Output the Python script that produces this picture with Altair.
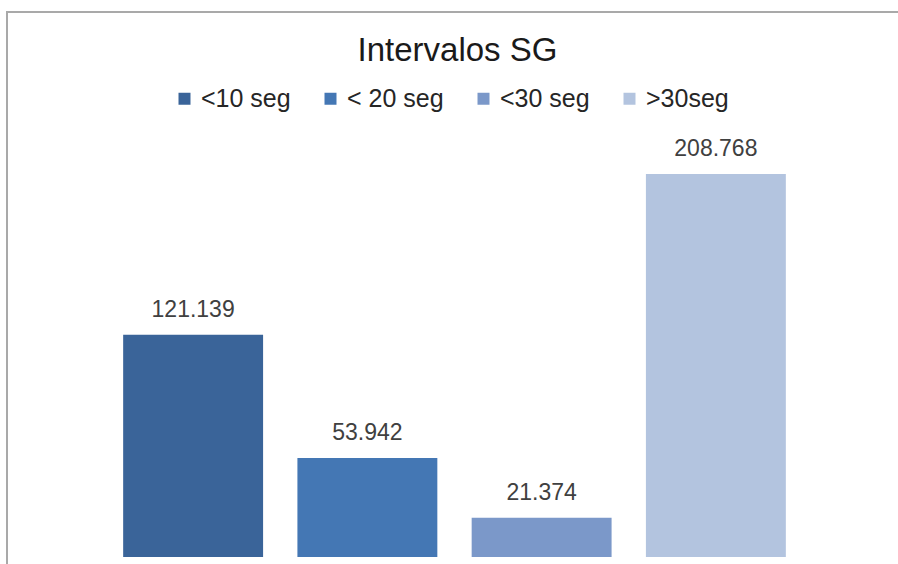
import altair as alt
import pandas as pd

# Intervalos SG: counts per time interval
categories = ["<10 seg", "< 20 seg", "<30 seg", ">30seg"]
values = [121139, 53942, 21374, 208768]
colors = ["#3a6499", "#4477b4", "#7b98c9", "#b3c4df"]

df = pd.DataFrame({"intervalo": categories, "total": values})
# Spanish-style thousands separator for the data labels
df["etiqueta"] = [f"{v:,}".replace(",", ".") for v in values]

x = alt.X(
    "intervalo:N",
    sort=categories,
    axis=None,
    scale=alt.Scale(paddingInner=0.197, paddingOuter=0.0985),
)
y = alt.Y("total:Q", axis=None, scale=alt.Scale(domain=[0, 218000], nice=False))

bars = alt.Chart(df).mark_bar().encode(
    x=x,
    y=y,
    color=alt.Color(
        "intervalo:N",
        sort=categories,
        scale=alt.Scale(domain=categories, range=colors),
        legend=alt.Legend(
            title=None,
            orient="none",
            legendX=66,
            legendY=-71,
            direction="horizontal",
            symbolType="square",
            symbolSize=144,
            symbolStrokeWidth=0,
            labelFont="Liberation Sans",
            labelFontSize=25,
            labelColor="#262626",
            labelOffset=4,
            columnPadding=27,
            padding=0,
        ),
    ),
)

labels = alt.Chart(df).mark_text(
    font="Liberation Sans",
    fontSize=23,
    color="#404040",
    baseline="alphabetic",
    dy=-18,
).encode(x=x, y=y, text="etiqueta:N")

# Outer chart frame (top and left edges)
frame_top = alt.Chart(alt.Data(values=[{}])).mark_rule(
    color="#a9a9a9", strokeWidth=2
).encode(x=alt.value(-99), x2=alt.value(800), y=alt.value(-145))
frame_left = alt.Chart(alt.Data(values=[{}])).mark_rule(
    color="#a9a9a9", strokeWidth=2
).encode(x=alt.value(-99), y=alt.value(-146), y2=alt.value(410))

chart = (
    alt.layer(bars, labels, frame_top, frame_left)
    .properties(
        width=697,
        height=400,
        autosize=alt.AutoSizeParams(type="none"),
        padding={"left": 106, "top": 157, "right": 95, "bottom": 7},
        background="white",
        title=alt.TitleParams(
            "Intervalos SG",
            font="Liberation Sans",
            fontSize=33,
            fontWeight="normal",
            color="#1a1a1a",
            anchor="middle",
            offset=-84,
            baseline="alphabetic",
            dx=3,
        ),
    )
    .configure_view(stroke=None)
)

chart.save("out.html", embed_options={"renderer": "svg", "actions": False})
